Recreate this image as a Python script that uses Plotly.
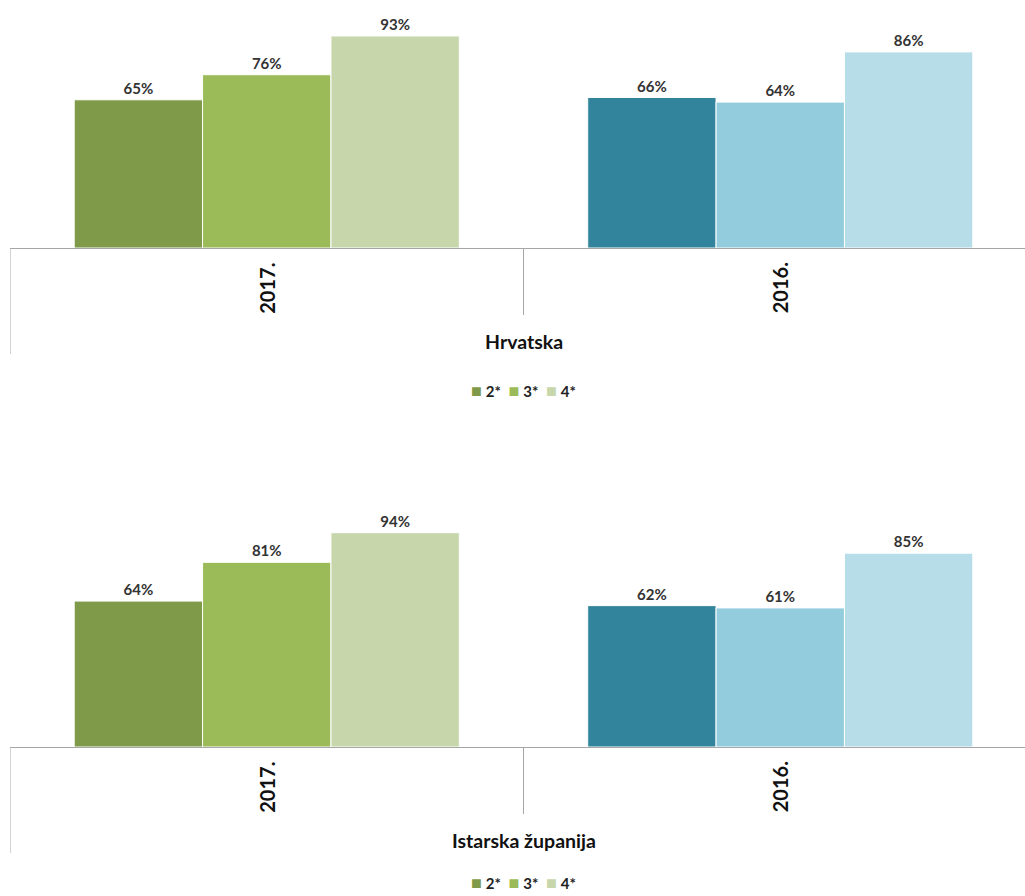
import plotly.graph_objects as go

categories = ["2017.", "2016."]
series_names = ["2*", "3*", "4*"]
hrvatska = {"2*": [65, 66], "3*": [76, 64], "4*": [93, 86]}
istra = {"2*": [64, 62], "3*": [81, 61], "4*": [94, 85]}
panel_titles = ["Hrvatska", "Istarska županija"]

green = {"2*": "#7f9a48", "3*": "#9bbb59", "4*": "#c7d6ab"}
blue = {"2*": "#31849b", "3*": "#93cddd", "4*": "#b7dee8"}

FONT = "Lato"
W, H = 1025, 896
x0_px = 10
cat_px = 513.5
xr = [-0.5, -0.5 + (W - x0_px) / cat_px]

# pixel layout of panels: (baseline, top for 100%, legend centre)
panels = [(248, 20, 390), (747, 519, 882)]

fig = go.Figure()
for p, data in enumerate([hrvatska, istra]):
    xa = "x" if p == 0 else "x2"
    ya = "y" if p == 0 else "y2"
    for s in series_names:
        fig.add_trace(go.Bar(
            x=list(range(len(categories))), y=data[s], name=s,
            xaxis=xa, yaxis=ya, showlegend=False,
            marker=dict(color=[green[s], blue[s]], line=dict(color="white", width=1)),
            text=[f"{v}%" for v in data[s]], textposition="outside",
            textfont=dict(family=FONT, size=15, color="#333333", weight="bold"),
            cliponaxis=False,
        ))

layout = dict(
    width=W, height=H, margin=dict(l=0, r=0, t=0, b=0, autoexpand=False),
    paper_bgcolor="white", plot_bgcolor="white",
    barmode="group", bargap=0.25, bargroupgap=0,
    font=dict(family=FONT),
    showlegend=False,
)
shapes = []
annotations = []
legend_text = "&nbsp;&nbsp;".join(
    f"<span style='color:{green[s]};font-size:18px'>■</span> <b>{s}</b>" for s in series_names
)
for p, (base, top, legy) in enumerate(panels):
    sfx = "" if p == 0 else "2"
    layout["xaxis" + sfx] = dict(
        domain=[x0_px / W, 1], range=xr, type="linear",
        showline=True, linecolor="#a6a6a6", linewidth=1,
        showticklabels=False, ticks="", showgrid=False, zeroline=False,
        anchor="y" + sfx, automargin=False, fixedrange=True,
    )
    layout["yaxis" + sfx] = dict(
        domain=[1 - base / H, 1 - top / H], range=[0, 100],
        visible=False, anchor="x" + sfx, fixedrange=True,
    )
    span = base - top
    shapes.append(dict(type="line", xref="x" + sfx, yref=f"y{sfx} domain",
                       x0=-0.5, x1=-0.5, y0=0, y1=-(354 - 248) / span,
                       line=dict(color="#a6a6a6", width=1)))
    for i in range(1, len(categories)):
        shapes.append(dict(type="line", xref="x" + sfx, yref=f"y{sfx} domain",
                           x0=i - 0.5, x1=i - 0.5, y0=0, y1=-(315 - 248) / span,
                           line=dict(color="#a6a6a6", width=1)))
    for i, c in enumerate(categories):
        annotations.append(dict(
            x=i, xref="x" + sfx, y=-(288 - 248) / span, yref=f"y{sfx} domain",
            xanchor="center", yanchor="middle",
            text=f"<b>{c}</b>", textangle=-90, showarrow=False,
            font=dict(family=FONT, size=20, color="#111111"),
        ))
    annotations.append(dict(
        x=0.5, xref="x" + sfx, y=-(341 - 248) / span, yref=f"y{sfx} domain",
        xanchor="center", yanchor="middle",
        text=f"<b>{panel_titles[p]}</b>", showarrow=False,
        font=dict(family=FONT, size=19.5, color="#111111"),
    ))
    annotations.append(dict(
        x=0.5, xref="x" + sfx, y=-(legy - base) / span, yref=f"y{sfx} domain",
        xanchor="center", yanchor="middle",
        text=legend_text, showarrow=False,
        font=dict(family=FONT, size=15, color="#222222"),
    ))

layout["shapes"] = shapes
layout["annotations"] = annotations
fig.update_layout(**layout)
fig.write_html("out.html", config={"displayModeBar": False},
               post_script="document.body.style.margin='0';document.body.style.overflow='hidden';")
